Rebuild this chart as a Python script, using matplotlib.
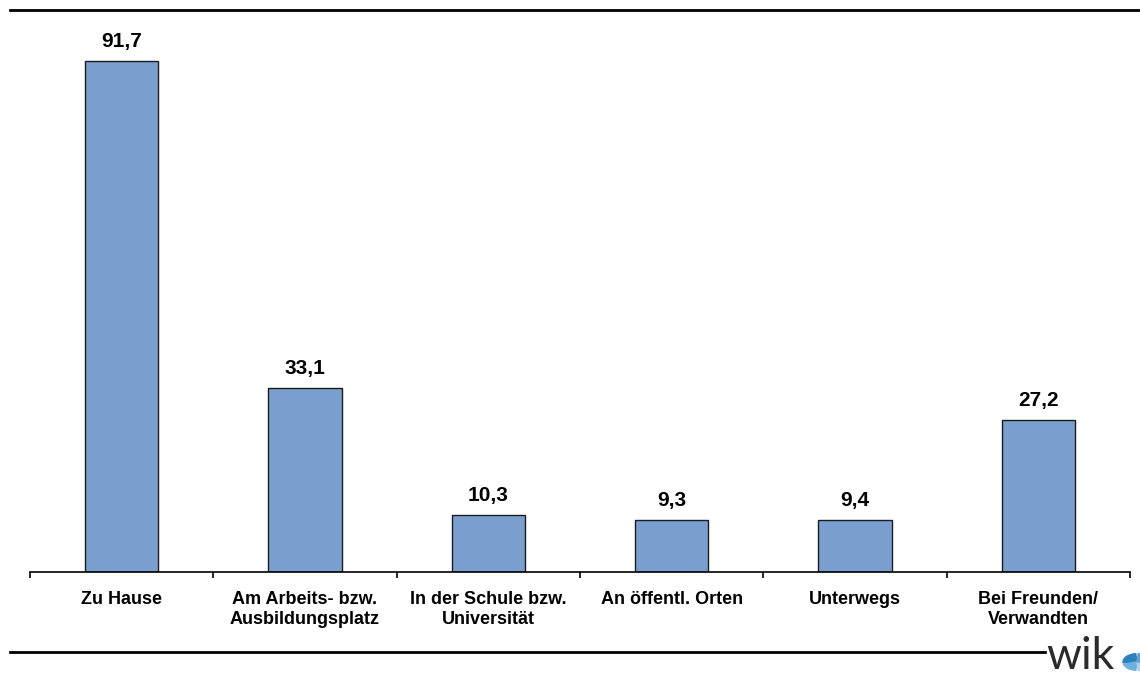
import numpy as np
import matplotlib.pyplot as plt
from matplotlib.lines import Line2D
from matplotlib.patches import Wedge

categories = ['Zu Hause', 'Am Arbeits- bzw.\nAusbildungsplatz', 'In der Schule bzw.\nUniversität',
              'An öffentl. Orten', 'Unterwegs', 'Bei Freunden/\nVerwandten']
values = [91.7, 33.1, 10.3, 9.3, 9.4, 27.2]
value_labels = ['91,7', '33,1', '10,3', '9,3', '9,4', '27,2']

plt.rcParams['font.family'] = ['Liberation Sans', 'DejaVu Sans']

W, H = 1140, 678
fig = plt.figure(figsize=(W / 100, H / 100), dpi=100)
ax = fig.add_axes([30 / W, 106 / H, 1100 / W, 557 / H])

x = np.arange(len(categories))
ax.bar(x, values, width=0.4, color='#7a9ece', edgecolor='#1a1a1a', linewidth=1.0)
for xi, v, lab in zip(x, values, value_labels):
    ax.text(xi, v + 1.8, lab, ha='center', va='bottom', fontsize=15, fontweight='bold')

ax.set_xlim(-0.5, len(categories) - 0.5)
ax.set_ylim(0, 100)
ax.set_yticks([])
for s in ['top', 'left', 'right']:
    ax.spines[s].set_visible(False)
ax.spines['bottom'].set_linewidth(1.2)

ax.set_xticks(np.arange(len(categories) + 1) - 0.5)
ax.set_xticklabels([])
ax.tick_params(axis='x', length=4, width=1.2, direction='out')
ax.set_xticks(x, minor=True)
ax.set_xticklabels(categories, minor=True, fontsize=13, fontweight='bold', linespacing=1.2)
ax.tick_params(axis='x', which='minor', length=0, pad=14)

# decorative lines
fig.add_artist(Line2D([10 / W, 1.0], [1 - 10 / H] * 2, color='black', lw=2, transform=fig.transFigure))
fig.add_artist(Line2D([10 / W, 1045 / W], [1 - 652 / H] * 2, color='black', lw=2, transform=fig.transFigure))

# logo
fig.text(1046 / W, 1 - 677 / H, 'wik', fontsize=32, color='#2b2b2b', family='Lato',
         ha='left', va='bottom')
cx, cy, r = 1137 / W, 1 - 662 / H, 14 / W
fig.add_artist(Wedge((cx, cy), r, 95, 185, color='#2f7fbf', transform=fig.transFigure))
fig.add_artist(Wedge((cx, cy), r, 195, 265, color='#6fb0dc', transform=fig.transFigure))
fig.add_artist(Wedge((cx, cy), r, 275, 360, color='#a9d1ec', transform=fig.transFigure))
fig.add_artist(Wedge((cx, cy), r, 0, 85, color='#5fa3d4', transform=fig.transFigure))

fig.savefig('out.png', dpi=100)
